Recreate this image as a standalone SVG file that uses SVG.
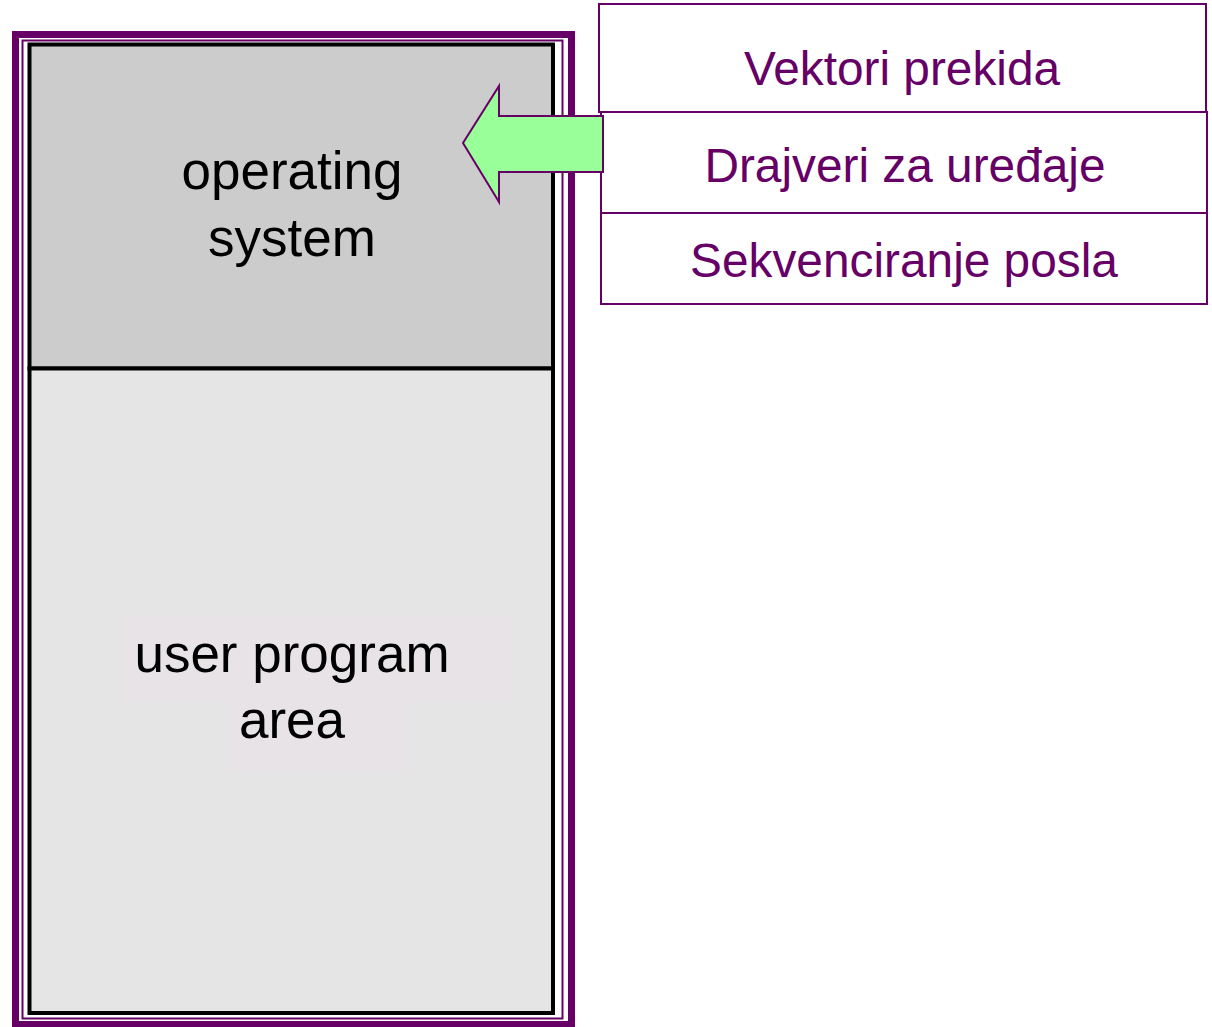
<svg xmlns="http://www.w3.org/2000/svg" width="1212" height="1027" viewBox="0 0 1212 1027">
<style>
.lbl{font-family:"Liberation Sans",Arial,sans-serif;font-size:53px;fill:#000;text-anchor:middle}
.box{fill:#fff;stroke:#660066;stroke-width:2}
.btxt{font-family:"Liberation Sans",Arial,sans-serif;font-size:47.8px;fill:#660066;text-anchor:middle}
</style>
<rect width="1212" height="1027" fill="#fff"/>
<g id="memory">
<rect x="15.5" y="34.5" width="556" height="990" fill="#fff" stroke="#660066" stroke-width="7"/>
<rect x="22.5" y="40.5" width="540" height="978" fill="none" stroke="#660066" stroke-width="2"/>
<rect x="29.5" y="44.5" width="523.5" height="324" fill="#cccccc" stroke="#000" stroke-width="4"/>
<rect x="29.5" y="368.5" width="523.5" height="644.5" fill="#e5e5e5" stroke="#000" stroke-width="4"/>
</g>
<g id="os">
<text class="lbl" x="292" y="189">operating</text>
<text class="lbl" x="292" y="256">system</text>
</g>
<g id="user">
<rect x="123" y="615" width="387" height="87" fill="#e7e3e7"/>
<rect x="229" y="702" width="178" height="70" fill="#e7e3e7"/>
<text class="lbl" x="292" y="672">user program</text>
<text class="lbl" x="292" y="738">area</text>
</g>
<g id="vektori">
<rect class="box" x="599" y="4" width="607" height="108"/>
<text class="btxt" x="902" y="85">Vektori prekida</text>
</g>
<g id="drajveri">
<rect class="box" x="601" y="112" width="606" height="101"/>
<text class="btxt" x="905" y="182">Drajveri za uređaje</text>
</g>
<g id="sekvenciranje">
<rect class="box" x="601" y="213" width="606" height="91"/>
<text class="btxt" x="904" y="277">Sekvenciranje posla</text>
</g>
<g id="connectors">
<polygon points="603,116 499,116 499,86 463,143 499,202 499,172 603,172" fill="#99ff99" stroke="#660066" stroke-width="2"/>
</g>
</svg>
